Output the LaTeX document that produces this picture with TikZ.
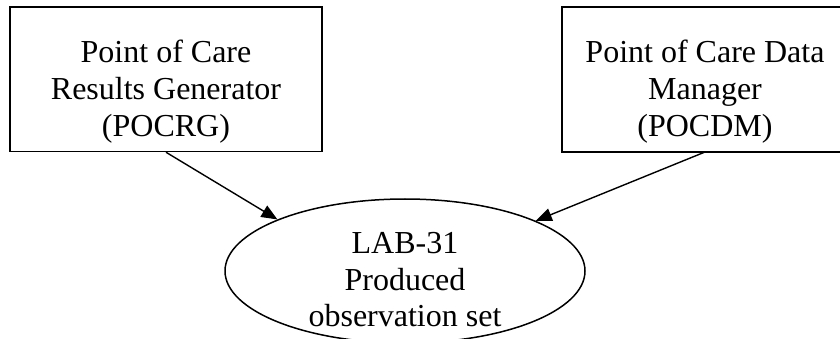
\documentclass[tikz,border=0pt]{standalone}
\usepackage{fontspec}
\setmainfont{Liberation Serif}
\usetikzlibrary{arrows.meta,shapes.geometric}
\tikzset{
  boxshape/.style={draw, line width=1.5pt, rectangle, inner sep=0pt},
  ovalshape/.style={draw, line width=1.5pt, ellipse, inner sep=0pt, minimum width=360pt, minimum height=144pt},
  lbl/.style={anchor=base, inner sep=0pt, font=\fontsize{32pt}{37pt}\selectfont},
  flow/.style={line width=1.4pt, -{Triangle[length=16pt,width=13pt]}}
}
\begin{document}
\begin{tikzpicture}
\clip (0pt,0pt) rectangle (840pt,-339pt);
\useasboundingbox (0pt,0pt) rectangle (840pt,-339pt);
% left box
\node[boxshape, minimum width=312pt, minimum height=144.5pt] (g) at (166pt,-79.25pt) {};
\node[lbl] (g1) at (166pt,-63pt) {Point of Care};
\node[lbl] (g2) at (166pt,-100pt) {Results Generator};
\node[lbl] (g3) at (166pt,-137pt) {(POCRG)};
% right box (its right side lies beyond the picture)
\node[boxshape, minimum width=310pt, minimum height=145pt] (d) at (717pt,-79.5pt) {};
\coordinate (dfoot) at (705pt,-152pt);
\node[lbl] (d1) at (705pt,-63pt) {Point of Care Data};
\node[lbl] (d2) at (705pt,-100pt) {Manager};
\node[lbl] (d3) at (705pt,-137pt) {(POCDM)};
% ellipse
\node[ovalshape] (e) at (405pt,-271pt) {};
\node[lbl] (e1) at (405pt,-253pt) {LAB-31};
\node[lbl] (e2) at (405pt,-290pt) {Produced};
\node[lbl] (e3) at (405pt,-326pt) {observation set};
% connectors
\draw[flow] (g.south) -- (e.158);
\draw[flow] (dfoot) -- (e.21.5);
\end{tikzpicture}
\end{document}
